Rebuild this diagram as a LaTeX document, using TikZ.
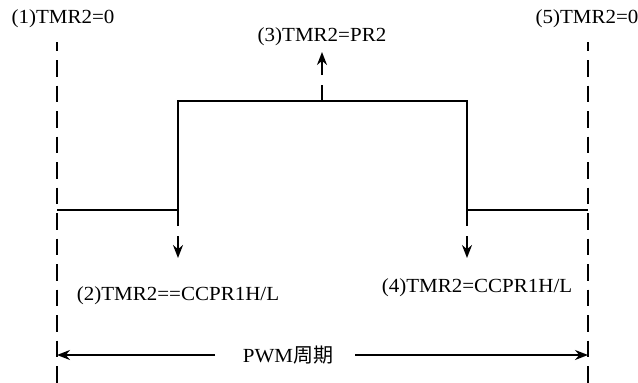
\documentclass[tikz,border=0pt]{standalone}
\usepackage{fontspec}
\setmainfont[FakeStretch=1.05]{Liberation Serif}
\newfontfamily\cjk{Noto Sans CJK SC}
\usetikzlibrary{arrows.meta}

\tikzset{
  lbl/.style={inner sep=0pt, font=\fontsize{20}{22}\selectfont},
  wave/.style={line width=1.5pt},
  mark line/.style={line width=2.4pt, dash pattern=on 16.5pt off 9pt, dash phase=7.5pt},
  tick/.style={line width=1.8pt, -{Stealth[length=13pt,width=10pt]}}
}

\begin{document}
\begin{tikzpicture}
  [x=1pt,y=-1pt]
  \useasboundingbox (0,0) rectangle (638,383);

  \node[lbl] (t1) at (63,19)  {(1)TMR2=0};
  \node[lbl] (t5) at (587,19) {(5)TMR2=0};
  \node[lbl] (t3) at (322,37) {(3)TMR2=PR2};
  \node[lbl] (t2) at (178,296) {(2)TMR2==CCPR1H/L};
  \node[lbl] (t4) at (477,288) {(4)TMR2=CCPR1H/L};
  \node[lbl] (period) at (288,355) {PWM{\cjk 周期}};

  % period marks
  \coordinate (l_top) at (57,42);
  \coordinate (l_bot) at (57,383);
  \coordinate (r_top) at (588,42);
  \coordinate (r_bot) at (588,383);
  \draw[mark line] (l_top) -- (l_bot);
  \draw[mark line] (r_top) -- (r_bot);

  % waveform
  \coordinate (start) at (57,210);
  \coordinate (rise_lo) at (178,210);
  \coordinate (rise_end) at (178,226);
  \coordinate (rise_hi) at (178,101);
  \coordinate (top_mid) at (322,101);
  \coordinate (fall_hi) at (467,101);
  \coordinate (fall_end) at (467,226);
  \coordinate (fall_lo) at (467,210);
  \coordinate (stop) at (588,210);
  \draw[wave] (start) -- (rise_lo);
  \draw[wave] (rise_end) -- (rise_hi) -- (fall_hi) -- (fall_end);
  \draw[wave] (fall_lo) -- (stop);
  \draw[wave] (top_mid) -- (322,85);

  % event arrows
  \coordinate (up_a) at (322,75);
  \coordinate (up_b) at (322,52);
  \coordinate (dn2_a) at (178,236);
  \coordinate (dn2_b) at (178,258);
  \coordinate (dn4_a) at (467,236);
  \coordinate (dn4_b) at (467,258);
  \draw[tick] (up_a) -- (up_b);
  \draw[tick] (dn2_a) -- (dn2_b);
  \draw[tick] (dn4_a) -- (dn4_b);

  % period span
  \coordinate (span_l) at (57,355);
  \coordinate (span_r) at (588,355);
  \draw[tick] (215,355) -- (span_l);
  \draw[tick] (355,355) -- (span_r);
\end{tikzpicture}
\end{document}
